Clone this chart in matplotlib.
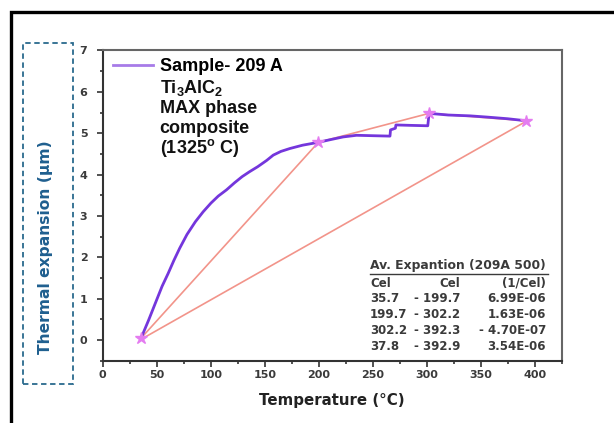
import matplotlib.pyplot as plt
from matplotlib.lines import Line2D
from matplotlib.patches import Rectangle
from matplotlib.ticker import MultipleLocator

plt.rcParams['font.family'] = ['DejaVu Sans']
plt.rcParams['font.weight'] = 'bold'
plt.rcParams['mathtext.fontset'] = 'custom'
plt.rcParams['mathtext.rm'] = 'Liberation Sans:bold'
plt.rcParams['mathtext.it'] = 'Liberation Sans:bold'
plt.rcParams['mathtext.bf'] = 'Liberation Sans:bold'

# measured curve (temperature in C, expansion in um)
temp = [35.7, 38, 42.5, 49.8, 55, 60.6, 66, 71.3, 78, 85.8, 93, 100.2, 107,
        114.6, 122, 129.1, 136, 143.5, 151.7, 157.9, 165, 173.3, 185, 199.7,
        210, 222.6, 235, 250, 266, 266.5, 271, 271.5, 285, 301, 302.2, 320,
        340, 356, 375, 392.3]
expansion = [0.05, 0.2, 0.48, 0.96, 1.3, 1.61, 1.93, 2.22, 2.55, 2.86, 3.1,
             3.31, 3.48, 3.63, 3.8, 3.95, 4.07, 4.19, 4.34, 4.47, 4.56, 4.63,
             4.71, 4.78, 4.84, 4.91, 4.95, 4.94, 4.93, 5.08, 5.12, 5.2, 5.19,
             5.18, 5.48, 5.44, 5.42, 5.39, 5.35, 5.30]

# points used for the average expansion
seg_t = [35.7, 199.7, 302.2, 392.3]
seg_v = [0.05, 4.78, 5.48, 5.30]
full_t = [37.8, 392.9]
full_v = [0.05, 5.30]

table_title = "Av. Expantion (209A 500)"
table_from = ["Cel", "35.7", "199.7", "302.2", "37.8"]
table_to = ["Cel", "- 199.7", "- 302.2", "- 392.3", "- 392.9"]
table_coef = ["(1/Cel)", "6.99E-06", "1.63E-06", "- 4.70E-07", "3.54E-06"]

W, H = 614, 423
fig = plt.figure(figsize=(W / 100, H / 100), dpi=100)
ax = fig.add_axes([102.7 / W, 1 - 360.7 / H, 459 / W, 310.2 / H])

ax.plot(seg_t, seg_v, color='#f2948a', lw=1.2, zorder=2)
ax.plot(full_t, full_v, color='#f2948a', lw=1.2, zorder=2)
ax.plot(temp, expansion, color='#7436dc', lw=2, zorder=3)
ax.plot(seg_t, seg_v, ls='none', marker='*', ms=9, color='#e47cf0', zorder=4)

ax.set_xlim(0, 425)
ax.set_ylim(-0.5, 7)
ax.xaxis.set_major_locator(MultipleLocator(50))
ax.xaxis.set_minor_locator(MultipleLocator(25))
ax.yaxis.set_major_locator(MultipleLocator(1))
ax.yaxis.set_minor_locator(MultipleLocator(0.5))
ax.tick_params(which='major', direction='out', length=4.5, width=1.2,
               colors='#333333', labelsize=8, labelcolor='#3a3a3a')
ax.tick_params(which='minor', direction='out', length=2.5, width=1.2, colors='#333333')
ax.tick_params(axis='y', which='major', pad=6.5)
ax.tick_params(axis='x', which='major', pad=2.5)
for s in ax.spines.values():
    s.set_linewidth(1.5)
    s.set_color('#333333')
for s in ['top', 'right']:
    ax.spines[s].set_color('#666666')

ax.set_xlabel("Temperature (°C)", fontsize=10.8, fontweight='bold',
              color='#222222', labelpad=9)

leg = ax.legend([Line2D([], [], color='#a77be8', lw=2)], ["Sample- 209 A"],
                loc='upper left', bbox_to_anchor=(0.022, 0.976), frameon=False,
                borderpad=0, borderaxespad=0, handlelength=2.25,
                handletextpad=0.36,
                prop={'family': 'Liberation Sans', 'size': 13, 'weight': 'bold'})

lines = ["Ti$_3$AlC$_2$", "MAX phase", "composite", "(1325$^{o}$ C)"]
ys = [93, 113, 133.1, 153.1]
for txt, yy in zip(lines, ys):
    ax.text(0.124, (360.7 - yy) / 310.2, txt, transform=ax.transAxes,
            fontsize=13, va='baseline', ha='left', color='#111111',
            family='Liberation Sans')

# average expansion table
tc = '#3a3a3a'
ax.text(0.5824, 0.3069, table_title, transform=ax.transAxes, fontsize=8.9,
        color=tc, va='center', ha='left')
ax.plot([0.5824, 0.9700], [0.2795, 0.2795], transform=ax.transAxes,
        color=tc, lw=1)
row_y = [0.2498, 0.1992, 0.1476, 0.0967, 0.0451]
for i in range(len(table_from)):
    ax.text(0.5824, row_y[i], table_from[i], transform=ax.transAxes,
            fontsize=8.5, color=tc, va='center', ha='left')
    ax.text(0.7784, row_y[i], table_to[i], transform=ax.transAxes,
            fontsize=8.5, color=tc, va='center', ha='right')
    ax.text(0.9658, row_y[i], table_coef[i], transform=ax.transAxes,
            fontsize=8.5, color=tc, va='center', ha='right')

# outer frame and dashed label box
fig.patches.append(Rectangle((11 / W, -0.1), 1.1, 1 - 12 / H + 0.1,
                             transform=fig.transFigure, fill=False,
                             ec='black', lw=2.4))
fig.patches.append(Rectangle((22.7 / W, 1 - 384 / H), 50 / W, 341.3 / H,
                             transform=fig.transFigure, fill=False,
                             ec='#2a6a8e', lw=1.3, ls=(0, (3, 2))))
fig.text(46 / W, 1 - 247 / H, "Thermal expansion (μm)", rotation=90,
         fontsize=11.2, color='#1f5f8f', ha='center', va='center',
         weight='bold')

fig.savefig('out.png', dpi=100)
